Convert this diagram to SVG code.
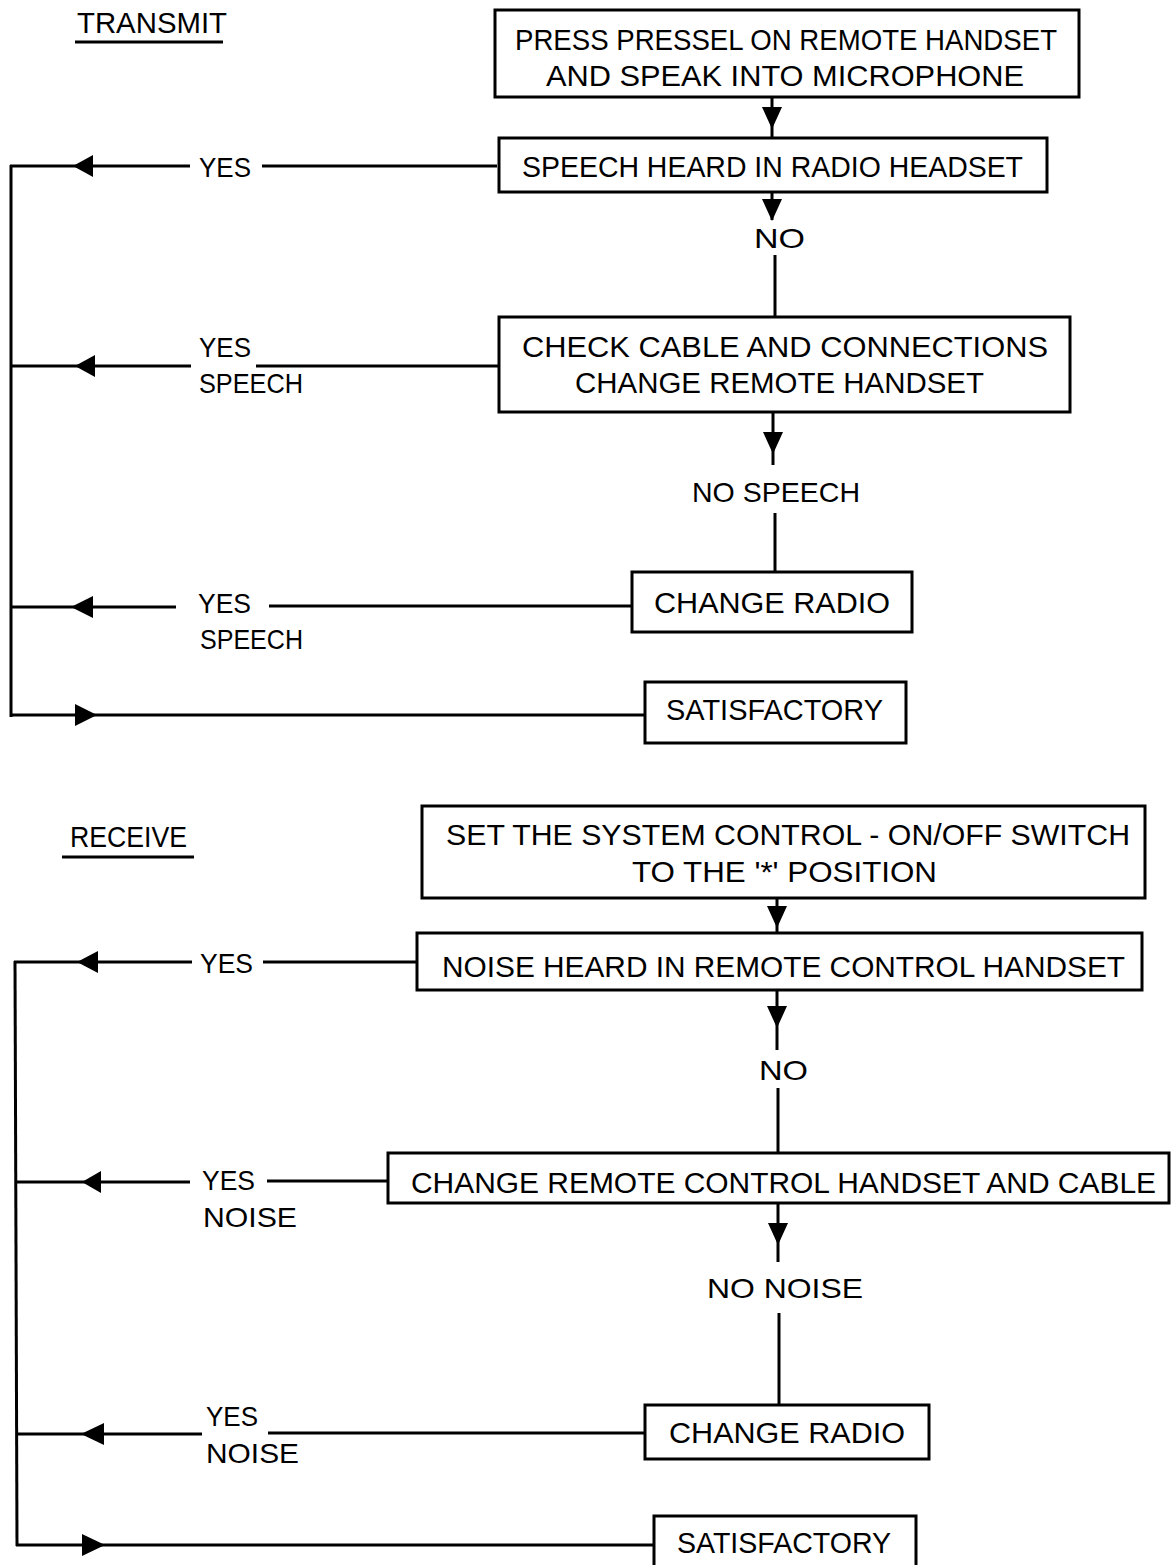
<svg xmlns="http://www.w3.org/2000/svg" width="1173" height="1565" viewBox="0 0 1173 1565">
<style>
.bg{fill:#fff}
.box{fill:#fff;stroke:#000;stroke-width:3}
.t{font-family:"Liberation Sans",Arial,sans-serif;font-size:30px;fill:#000}
.lbl{font-family:"Liberation Sans",Arial,sans-serif;font-size:28px;fill:#000}
.ln{stroke:#000;stroke-width:3;fill:none}
.ah{fill:#000}
</style>
<rect class="bg" x="0" y="0" width="1173" height="1565"/>

<g id="title-transmit">
<text class="t" x="77" y="33" textLength="150" lengthAdjust="spacingAndGlyphs">TRANSMIT</text>
<line class="ln" x1="75" y1="42" x2="223" y2="42" stroke-width="2.5"/>
</g>
<g id="title-receive">
<text class="t" x="70" y="847" textLength="117" lengthAdjust="spacingAndGlyphs">RECEIVE</text>
<line class="ln" x1="62" y1="857" x2="194" y2="857" stroke-width="2.5"/>
</g>

<g id="connectors">
<!-- transmit vertical flow -->
<line class="ln" x1="772" y1="97" x2="772" y2="138"/>
<polygon class="ah" points="762,107 782,107 772,129"/>
<line class="ln" x1="772" y1="192" x2="772" y2="220"/>
<polygon class="ah" points="762,199 782,199 772,221"/>
<text class="lbl" x="754" y="248" textLength="51" lengthAdjust="spacingAndGlyphs">NO</text>
<line class="ln" x1="775" y1="255" x2="775" y2="317"/>
<line class="ln" x1="773" y1="412" x2="773" y2="465"/>
<polygon class="ah" points="763,432 783,432 773,454"/>
<text class="lbl" x="692" y="502" textLength="168" lengthAdjust="spacingAndGlyphs">NO SPEECH</text>
<line class="ln" x1="775" y1="513" x2="775" y2="572"/>

<!-- transmit left returns -->
<line class="ln" x1="11" y1="165" x2="11" y2="717"/>
<line class="ln" x1="497" y1="166" x2="262" y2="166"/>
<text class="lbl" x="199" y="177" textLength="52" lengthAdjust="spacingAndGlyphs">YES</text>
<line class="ln" x1="190" y1="166" x2="10" y2="166"/>
<polygon class="ah" points="73,166 93,155 93,177"/>

<line class="ln" x1="499" y1="366" x2="256" y2="366"/>
<text class="lbl" x="199" y="357" textLength="52" lengthAdjust="spacingAndGlyphs">YES</text>
<text class="lbl" x="199" y="393" textLength="104" lengthAdjust="spacingAndGlyphs">SPEECH</text>
<line class="ln" x1="191" y1="366" x2="11" y2="366"/>
<polygon class="ah" points="75,366 95,355 95,377"/>

<line class="ln" x1="632" y1="606" x2="269" y2="606"/>
<text class="lbl" x="198" y="613" textLength="53" lengthAdjust="spacingAndGlyphs">YES</text>
<text class="lbl" x="200" y="649" textLength="103" lengthAdjust="spacingAndGlyphs">SPEECH</text>
<line class="ln" x1="176" y1="607" x2="11" y2="607"/>
<polygon class="ah" points="71,607 93,596 93,618"/>

<line class="ln" x1="10" y1="715" x2="645" y2="715"/>
<polygon class="ah" points="97,715 75,704 75,726"/>

<!-- receive vertical flow -->
<line class="ln" x1="777" y1="898" x2="777" y2="933"/>
<polygon class="ah" points="767,906 787,906 777,928"/>
<line class="ln" x1="777" y1="990" x2="777" y2="1050"/>
<polygon class="ah" points="767,1006 787,1006 777,1028"/>
<text class="lbl" x="759" y="1080" textLength="49" lengthAdjust="spacingAndGlyphs">NO</text>
<line class="ln" x1="778" y1="1088" x2="778" y2="1153"/>
<line class="ln" x1="778" y1="1203" x2="778" y2="1262"/>
<polygon class="ah" points="768,1223 788,1223 778,1245"/>
<text class="lbl" x="707" y="1298" textLength="156" lengthAdjust="spacingAndGlyphs">NO NOISE</text>
<line class="ln" x1="779" y1="1313" x2="779" y2="1405"/>

<!-- receive left returns -->
<path class="ln" d="M15,961 L17,1546"/>
<line class="ln" x1="417" y1="962" x2="263" y2="962"/>
<text class="lbl" x="200" y="973" textLength="53" lengthAdjust="spacingAndGlyphs">YES</text>
<line class="ln" x1="192" y1="962" x2="14" y2="962"/>
<polygon class="ah" points="77,962 98,951 98,973"/>

<line class="ln" x1="388" y1="1181" x2="267" y2="1181"/>
<text class="lbl" x="202" y="1190" textLength="53" lengthAdjust="spacingAndGlyphs">YES</text>
<text class="lbl" x="203" y="1227" textLength="94" lengthAdjust="spacingAndGlyphs">NOISE</text>
<line class="ln" x1="190" y1="1182" x2="16" y2="1182"/>
<polygon class="ah" points="82,1182 101,1171 101,1193"/>

<line class="ln" x1="645" y1="1433" x2="268" y2="1433"/>
<text class="lbl" x="206" y="1426" textLength="52" lengthAdjust="spacingAndGlyphs">YES</text>
<text class="lbl" x="206" y="1463" textLength="93" lengthAdjust="spacingAndGlyphs">NOISE</text>
<line class="ln" x1="202" y1="1434" x2="16" y2="1434"/>
<polygon class="ah" points="81,1434 104,1423 104,1445"/>

<line class="ln" x1="16" y1="1545" x2="654" y2="1545"/>
<polygon class="ah" points="105,1545 82,1534 82,1556"/>
</g>

<g id="n-press">
<rect class="box" x="495" y="10" width="584" height="87"/>
<text class="t" x="515" y="50" textLength="542" lengthAdjust="spacingAndGlyphs">PRESS PRESSEL ON REMOTE HANDSET</text>
<text class="t" x="546" y="86" textLength="478" lengthAdjust="spacingAndGlyphs">AND SPEAK INTO MICROPHONE</text>
</g>
<g id="n-speech-heard">
<rect class="box" x="499" y="138" width="548" height="54"/>
<text class="t" x="522" y="177" textLength="501" lengthAdjust="spacingAndGlyphs">SPEECH HEARD IN RADIO HEADSET</text>
</g>
<g id="n-check-cable">
<rect class="box" x="499" y="317" width="571" height="95"/>
<text class="t" x="522" y="357" textLength="526" lengthAdjust="spacingAndGlyphs">CHECK CABLE AND CONNECTIONS</text>
<text class="t" x="575" y="393" textLength="409" lengthAdjust="spacingAndGlyphs">CHANGE REMOTE HANDSET</text>
</g>
<g id="n-change-radio-1">
<rect class="box" x="632" y="572" width="280" height="60"/>
<text class="t" x="654" y="613" textLength="236" lengthAdjust="spacingAndGlyphs">CHANGE RADIO</text>
</g>
<g id="n-satisfactory-1">
<rect class="box" x="645" y="682" width="261" height="61"/>
<text class="t" x="666" y="720" textLength="217" lengthAdjust="spacingAndGlyphs">SATISFACTORY</text>
</g>

<g id="n-set-switch">
<rect class="box" x="422" y="806" width="723" height="92"/>
<text class="t" x="446" y="845" textLength="684" lengthAdjust="spacingAndGlyphs">SET THE SYSTEM CONTROL - ON/OFF SWITCH</text>
<text class="t" x="632" y="882" textLength="305" lengthAdjust="spacingAndGlyphs">TO THE '*' POSITION</text>
</g>
<g id="n-noise-heard">
<rect class="box" x="417" y="933" width="725" height="57"/>
<text class="t" x="442" y="977" textLength="683" lengthAdjust="spacingAndGlyphs">NOISE HEARD IN REMOTE CONTROL HANDSET</text>
</g>
<g id="n-change-handset">
<rect class="box" x="388" y="1153" width="781" height="50"/>
<text class="t" x="411" y="1193" textLength="745" lengthAdjust="spacingAndGlyphs">CHANGE REMOTE CONTROL HANDSET AND CABLE</text>
</g>
<g id="n-change-radio-2">
<rect class="box" x="645" y="1405" width="284" height="54"/>
<text class="t" x="669" y="1443" textLength="236" lengthAdjust="spacingAndGlyphs">CHANGE RADIO</text>
</g>
<g id="n-satisfactory-2">
<rect class="box" x="654" y="1516" width="262" height="62"/>
<text class="t" x="677" y="1553" textLength="214" lengthAdjust="spacingAndGlyphs">SATISFACTORY</text>
</g>
</svg>
